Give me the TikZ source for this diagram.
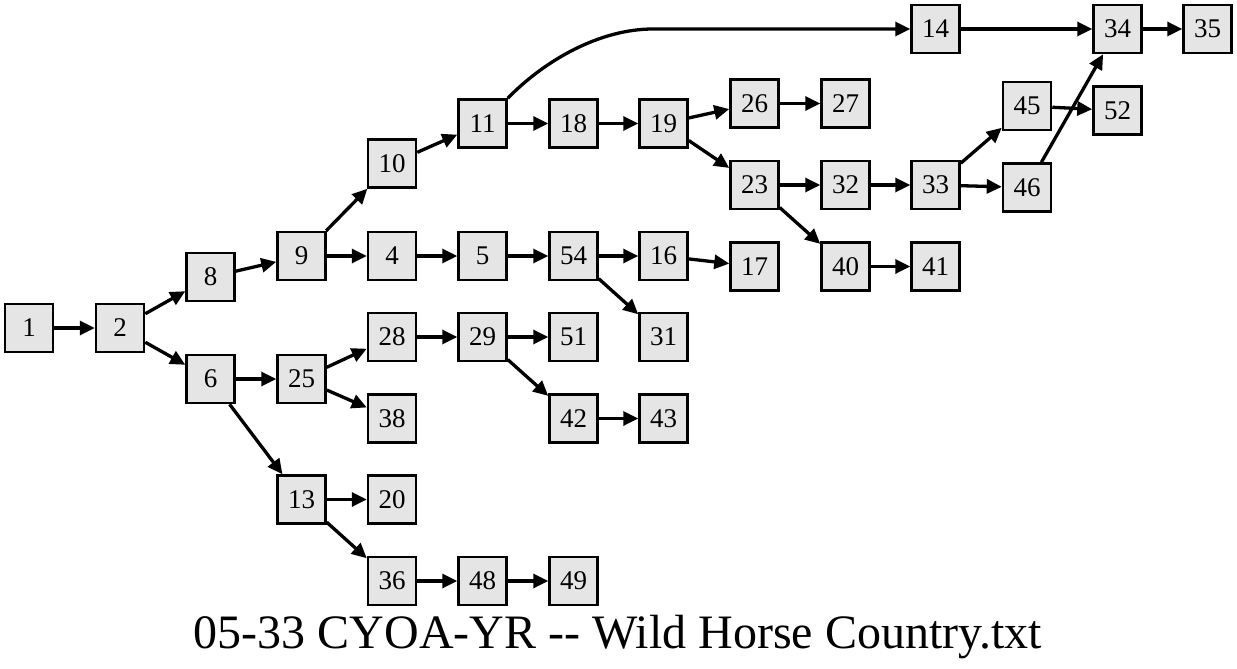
\documentclass[tikz,border=0pt]{standalone}
\usepackage{fontspec}
\setmainfont{Liberation Serif}
\usetikzlibrary{arrows.meta}
\definecolor{boxfill}{RGB}{229,229,229}
\tikzset{
  box/.style={draw=black, line width=2.5pt, fill=boxfill, minimum width=48pt, minimum height=48pt, inner sep=0pt, font=\fontsize{27}{27}\selectfont},
  edge/.style={line width=3.3pt, -{Triangle[length=15pt,width=14pt]}},
}
\begin{document}
\begin{tikzpicture}[x=1pt,y=-1pt]
\useasboundingbox (0,0) rectangle (1237,669);
\node[box] (n1) at (29,328) {1};
\node[box] (n2) at (120,328) {2};
\node[box] (n8) at (210.5,277) {8};
\node[box] (n6) at (210.5,379) {6};
\node[box] (n9) at (301.5,256) {9};
\node[box] (n25) at (301.5,379) {25};
\node[box] (n13) at (301.5,499.5) {13};
\node[box] (n10) at (392,163.5) {10};
\node[box] (n4) at (392,256) {4};
\node[box] (n28) at (392,337) {28};
\node[box] (n38) at (392,418.5) {38};
\node[box] (n20) at (392,499.5) {20};
\node[box] (n36) at (392,581) {36};
\node[box] (n11) at (482.5,123.5) {11};
\node[box] (n5) at (482.5,256) {5};
\node[box] (n29) at (482.5,337) {29};
\node[box] (n48) at (482.5,581) {48};
\node[box] (n18) at (573.5,123.5) {18};
\node[box] (n54) at (573.5,256) {54};
\node[box] (n51) at (573.5,337) {51};
\node[box] (n42) at (573.5,418.5) {42};
\node[box] (n49) at (573.5,581) {49};
\node[box] (n19) at (663.5,123.5) {19};
\node[box] (n16) at (663.5,256) {16};
\node[box] (n31) at (663.5,337) {31};
\node[box] (n43) at (663.5,418.5) {43};
\node[box] (n26) at (754.5,103.5) {26};
\node[box] (n23) at (754.5,185) {23};
\node[box] (n17) at (754.5,266.5) {17};
\node[box] (n27) at (845.5,103.5) {27};
\node[box] (n32) at (845.5,185) {32};
\node[box] (n40) at (845.5,266.5) {40};
\node[box] (n14) at (935.5,29) {14};
\node[box] (n33) at (935.5,185) {33};
\node[box] (n41) at (935.5,266.5) {41};
\node[box] (n45) at (1027,106) {45};
\node[box] (n46) at (1027,187.5) {46};
\node[box] (n34) at (1117.5,29) {34};
\node[box] (n52) at (1117.5,110.5) {52};
\node[box] (n35) at (1207.5,29) {35};
\coordinate (c11) at (653,29);
\node[font=\fontsize{48}{48}\selectfont, anchor=base, inner sep=0pt] (title) at (618,648) {05-33 CYOA-YR -{}- Wild Horse Country.txt};
\draw[edge] (n1) -- (n2);
\draw[edge] (n2) -- (n8);
\draw[edge] (n2) -- (n6);
\draw[edge] (n8) -- (n9);
\draw[edge] (n6) -- (n25);
\draw[edge] (n6) -- (n13);
\draw[edge] (n9) -- (n10);
\draw[edge] (n9) -- (n4);
\draw[edge] (n25) -- (n28);
\draw[edge] (n25) -- (n38);
\draw[edge] (n13) -- (n20);
\draw[edge] (n13) -- (n36);
\draw[edge] (n10) -- (n11);
\draw[edge] (n4) -- (n5);
\draw[edge] (n28) -- (n29);
\draw[edge] (n36) -- (n48);
\draw[edge] (n11) -- (n18);
\draw[edge] (n5) -- (n54);
\draw[edge] (n29) -- (n51);
\draw[edge] (n29) -- (n42);
\draw[edge] (n48) -- (n49);
\draw[edge] (n18) -- (n19);
\draw[edge] (n54) -- (n16);
\draw[edge] (n54) -- (n31);
\draw[edge] (n42) -- (n43);
\draw[edge] (n19) -- (n26);
\draw[edge] (n19) -- (n23);
\draw[edge] (n16) -- (n17);
\draw[edge] (n26) -- (n27);
\draw[edge] (n23) -- (n32);
\draw[edge] (n23) -- (n40);
\draw[edge] (n32) -- (n33);
\draw[edge] (n40) -- (n41);
\draw[edge] (n33) -- (n45);
\draw[edge] (n33) -- (n46);
\draw[edge] (n45) -- (n52);
\draw[edge] (n46) -- (n34);
\draw[edge] (n14) -- (n34);
\draw[edge] (n34) -- (n35);
\draw[edge] (n11.north east) .. controls (545,60) and (600,29) .. (c11) -- (n14);
\end{tikzpicture}
\end{document}
